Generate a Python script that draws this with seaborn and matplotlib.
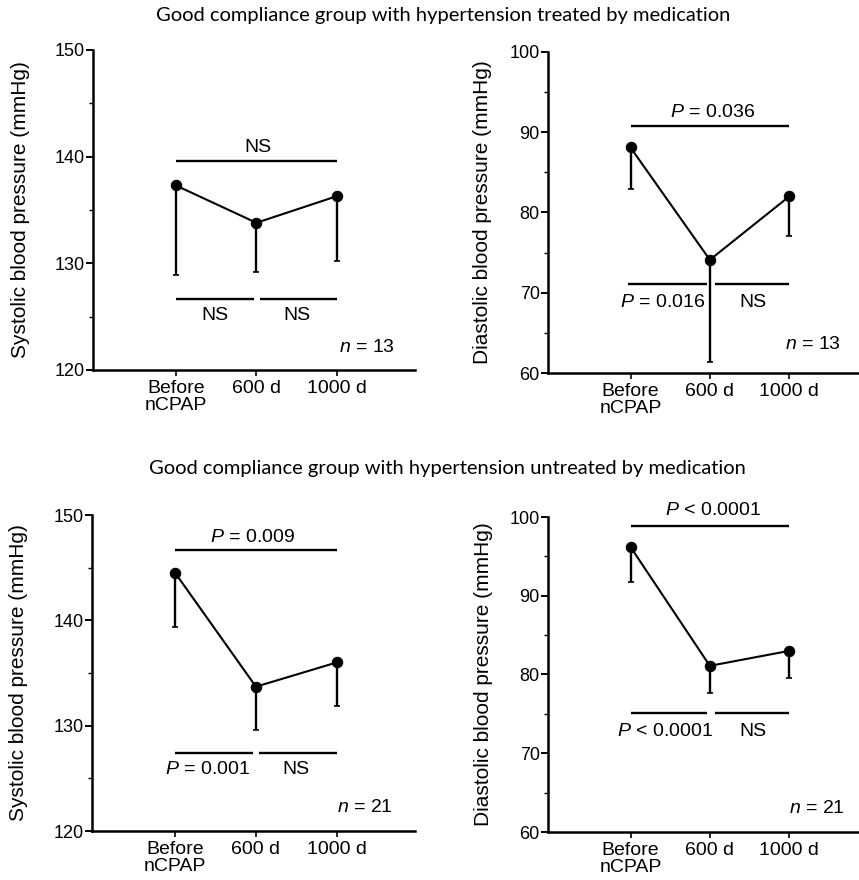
import numpy as np
import pandas as pd
import matplotlib
matplotlib.use("Agg")
import matplotlib.pyplot as plt
from matplotlib.ticker import MultipleLocator
import seaborn as sns

# Time points
timepoints = ["Before\nnCPAP", "600 d", "1000 d"]

# Treated group (n = 13)
treated_sbp = [137.3, 133.8, 136.3]
treated_sbp_lower = [128.9, 129.2, 130.2]
treated_dbp = [88.1, 74.1, 82.0]
treated_dbp_lower = [82.9, 61.4, 77.1]

# Untreated group (n = 21)
untreated_sbp = [144.5, 133.7, 136.0]
untreated_sbp_lower = [139.4, 129.6, 131.9]
untreated_dbp = [96.2, 81.1, 83.0]
untreated_dbp_lower = [91.8, 77.7, 79.5]

group_titles = [
    "Good compliance group with hypertension treated by medication",
    "Good compliance group with hypertension untreated by medication",
]

sns.set_theme(style="ticks")
plt.rcParams["font.family"] = ["Liberation Sans", "DejaVu Sans"]
plt.rcParams["mathtext.fontset"] = "custom"
plt.rcParams["mathtext.it"] = "Liberation Sans:italic"
plt.rcParams["mathtext.rm"] = "Liberation Sans"
for key in ("text.color", "axes.labelcolor", "xtick.color", "ytick.color", "axes.edgecolor"):
    plt.rcParams[key] = "black"

W, H = 859, 880
fig = plt.figure(figsize=(W / 100, H / 100), dpi=100)


def axes_px(left, right, top, bottom):
    return fig.add_axes([left / W, 1 - bottom / H, (right - left) / W, (bottom - top) / H])


FS = 13
ANN = 14


def draw_panel(ax, means, lowers, ylim, ystep, xlim, ylabel, sig, nlabel, label_x):
    df = pd.DataFrame({"pos": np.arange(len(means)), "value": means})
    # lower-only error bars
    yerr = [np.array(means) - np.array(lowers), np.zeros(len(means))]
    ax.errorbar(df["pos"], df["value"], yerr=yerr, fmt="none", ecolor="black",
                elinewidth=1.7, capsize=2, capthick=1.2, zorder=2)
    sns.lineplot(data=df, x="pos", y="value", ax=ax, color="black", linewidth=1.5,
                 marker="o", markersize=7.5, markeredgecolor="black", zorder=3)
    ax.set_xlim(*xlim)
    ax.set_ylim(*ylim)
    ax.yaxis.set_major_locator(MultipleLocator(ystep))
    ax.yaxis.set_minor_locator(MultipleLocator(ystep / 2))
    ax.set_xticks(df["pos"])
    ax.set_xticklabels(timepoints, fontsize=14, linespacing=1.05)
    ax.tick_params(axis="y", labelsize=FS, length=5, width=1.4, pad=1)
    ax.tick_params(axis="y", which="minor", length=3, width=1.0)
    ax.tick_params(axis="x", length=4, width=1.2, pad=3)
    ax.set_xlabel("")
    ax.set_ylabel(ylabel, fontsize=15)
    ax.yaxis.set_label_coords(label_x, 0.5)
    for s in ("top", "right"):
        ax.spines[s].set_visible(False)
    for s in ("left", "bottom"):
        ax.spines[s].set_linewidth(1.8)
    # significance bars and labels
    for (x0, x1, yb, text, tx, ty) in sig:
        ax.plot([x0, x1], [yb, yb], color="black", lw=1.7, solid_capstyle="butt",
                clip_on=False)
        ax.text(tx, ty, text, ha="center", va="center", fontsize=ANN, clip_on=False)
    ax.text(nlabel[0], nlabel[1], r"$n$ = " + nlabel[2], ha="center", va="center",
            fontsize=ANN)


# top-left: treated, systolic
ax1 = axes_px(93, 415, 50, 370)
draw_panel(ax1, treated_sbp, treated_sbp_lower, (120, 150), 10, (-1.03, 2.97),
           "Systolic blood pressure (mmHg)",
           [(0, 2, 139.6, "NS", 1.02, 140.9),
            (0, 0.97, 126.7, "NS", 0.48, 125.1),
            (1.04, 2, 126.7, "NS", 1.5, 125.1)],
           (2.37, 122.1, "13"), -0.196)

# top-right: treated, diastolic
ax2 = axes_px(548, 859, 52, 373)
draw_panel(ax2, treated_dbp, treated_dbp_lower, (60, 100), 10, (-1.04, 2.88),
           "Diastolic blood pressure (mmHg)",
           [(0, 2, 90.8, r"$P$ = 0.036", 1.03, 92.4),
            (-0.03, 0.96, 71.1, r"$P$ = 0.016", 0.41, 68.8),
            (1.06, 2, 71.1, "NS", 1.54, 68.8)],
           (2.3, 63.5, "13"), -0.18)

# bottom-left: untreated, systolic
ax3 = axes_px(92, 415, 515, 831)
draw_panel(ax3, untreated_sbp, untreated_sbp_lower, (120, 150), 10, (-1.03, 2.97),
           "Systolic blood pressure (mmHg)",
           [(0, 2, 146.7, r"$P$ = 0.009", 0.96, 147.9),
            (0, 0.97, 127.4, r"$P$ = 0.001", 0.4, 125.8),
            (1.04, 2, 127.4, "NS", 1.5, 125.8)],
           (2.35, 122.2, "21"), -0.197)

# bottom-right: untreated, diastolic
ax4 = axes_px(548, 859, 517, 832)
draw_panel(ax4, untreated_dbp, untreated_dbp_lower, (60, 100), 10, (-1.04, 2.88),
           "Diastolic blood pressure (mmHg)",
           [(0, 2, 98.9, r"$P$ < 0.0001", 1.04, 100.8),
            (0, 0.96, 75.1, r"$P$ < 0.0001", 0.43, 72.7),
            (1.06, 2, 75.1, "NS", 1.54, 72.7)],
           (2.35, 63.0, "21"), -0.177)

fig.text(443 / W, 1 - 16 / H, group_titles[0], ha="center", va="center", fontsize=14.5,
         family=["Lato", "DejaVu Sans"])
fig.text(447 / W, 1 - 468 / H, group_titles[1], ha="center", va="center", fontsize=14.5,
         family=["Lato", "DejaVu Sans"])

fig.savefig("out.png", dpi=100, facecolor="white")
